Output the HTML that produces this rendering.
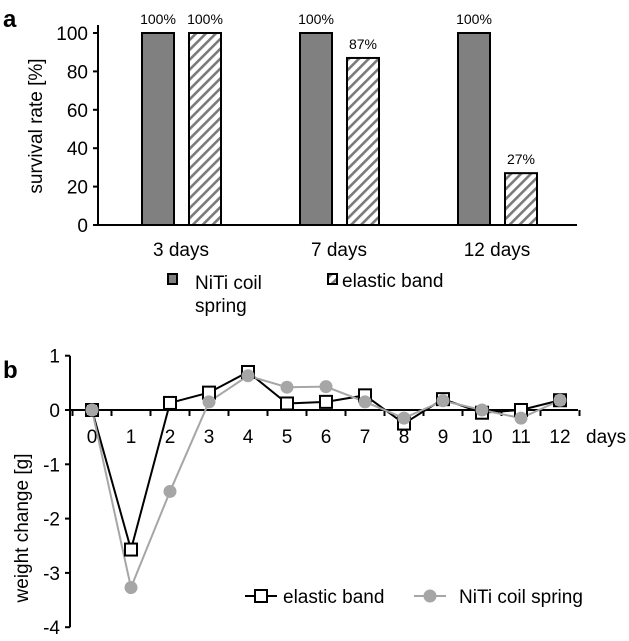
<!DOCTYPE html>
<html><head><meta charset="utf-8"><style>
body{margin:0;background:#fff;}
svg{display:block;font-family:"Liberation Sans",sans-serif;}
</style></head><body>
<svg id="c" width="629" height="641" viewBox="0 0 629 641">
<defs>
<pattern id="hatch" patternUnits="userSpaceOnUse" width="7" height="7" patternTransform="rotate(45)">
<rect width="7" height="7" fill="#fff"/><rect width="2.6" height="7" fill="#7a7a7a"/>
</pattern>
</defs>
<text x="3" y="27" font-size="24" font-weight="bold">a</text>
<text x="3" y="378" font-size="24" font-weight="bold">b</text>
<g id="top"></g><g id="bot"></g>
</svg>
<script>
const categories=["3 days","7 days","12 days"];
const nitiValues=[100,100,100];
const elasticValues=[100,87,27];
const yTicksA=[0,20,40,60,80,100];

const days=[0,1,2,3,4,5,6,7,8,9,10,11,12];
const elasticWeight=[0,-2.57,0.13,0.32,0.7,0.12,0.15,0.27,-0.25,0.2,-0.05,0,0.18];
const nitiWeight=[0,-3.27,-1.5,0.15,0.63,0.42,0.43,0.15,-0.15,0.17,0,-0.15,0.18];
const yTicksB=[1,0,-1,-2,-3,-4];

const NS="http://www.w3.org/2000/svg";
function mk(p,t,a){const e=document.createElementNS(NS,t);for(const k in a)e.setAttribute(k,a[k]);p.appendChild(e);return e;}
// Panel A
const A=document.getElementById('top');
const ax0=98,ax1=577,ay0=225,ay1=33;
const yA=v=>ay0-(v/100)*(ay0-ay1);
const cw=158;
const cx=i=>ax0+cw*(i+0.5);
const bw=32;
yTicksA.forEach(v=>{
 let t=mk(A,'line',{x1:ax0-5,x2:ax0,y1:yA(v),y2:yA(v),stroke:'#000','stroke-width':2});
 
 let l=mk(A,'text',{x:ax0-10,y:yA(v)+7,'font-size':19,'text-anchor':'end'});l.textContent=v;
 
});
categories.forEach((c,i)=>{
 let b1=mk(A,'rect',{x:cx(i)-35,y:yA(nitiValues[i]),width:bw,height:ay0-yA(nitiValues[i]),fill:'#808080',stroke:'#000','stroke-width':2});
 
 let b2=mk(A,'rect',{x:cx(i)+12,y:yA(elasticValues[i]),width:bw,height:ay0-yA(elasticValues[i]),fill:'url(#hatch)',stroke:'#000','stroke-width':2});
 
 let l1=mk(A,'text',{x:cx(i)-35+bw/2,y:yA(nitiValues[i])-9,'font-size':14,'text-anchor':'middle'});l1.textContent=Math.round(nitiValues[i])+'%';
 
 let l2=mk(A,'text',{x:cx(i)+12+bw/2,y:yA(elasticValues[i])-9,'font-size':14,'text-anchor':'middle'});l2.textContent=Math.round(elasticValues[i])+'%';
 
 let cl=mk(A,'text',{x:cx(i)+4,y:256,'font-size':19,'text-anchor':'middle'});cl.textContent=c;
 
});
let axA=mk(A,'path',{d:`M${ax0} ${ay1-8}V${ay0}H${ax1}`,fill:'none',stroke:'#000','stroke-width':2});

let ytA=mk(A,'text',{transform:'translate(42,126) rotate(-90)','font-size':19,'text-anchor':'middle'});ytA.textContent='survival rate [%]';

let lg1=mk(A,'rect',{x:168,y:274,width:9,height:10,fill:'#808080',stroke:'#000','stroke-width':2});

let lt1=mk(A,'text',{x:195,y:289,'font-size':19});lt1.textContent='NiTi coil';

let lt1b=mk(A,'text',{x:195,y:312,'font-size':19});lt1b.textContent='spring';

let lg2=mk(A,'rect',{x:328,y:274,width:9,height:10,fill:'url(#hatch)',stroke:'#000','stroke-width':2});

let lt2=mk(A,'text',{x:342,y:287,'font-size':19});lt2.textContent='elastic band';


// Panel B
const B=document.getElementById('bot');
const bx0=70,bx1=578,by0=410,bpu=54.3;
const xB=d=>92+d*39;
const yB=v=>by0-v*bpu;
yTicksB.forEach(v=>{
 let t=mk(B,'line',{x1:bx0-5,x2:bx0,y1:yB(v),y2:yB(v),stroke:'#000','stroke-width':2});
 
 let l=mk(B,'text',{x:bx0-10,y:yB(v)+7,'font-size':19,'text-anchor':'end'});l.textContent=v;
 
});
days.forEach(d=>{
 let t=mk(B,'line',{x1:xB(d)+19.5,x2:xB(d)+19.5,y1:by0,y2:by0+6,stroke:'#000','stroke-width':2});
 
 let l=mk(B,'text',{x:xB(d),y:443,'font-size':19,'text-anchor':'middle'});l.textContent=d;
 
});
let t0=mk(B,'line',{x1:xB(0)-19.5,x2:xB(0)-19.5,y1:by0,y2:by0+6,stroke:'#000','stroke-width':2});

let axB=mk(B,'path',{d:`M${bx0} ${yB(1)}V${yB(-4)}M${bx0} ${by0}H${bx1}`,fill:'none',stroke:'#000','stroke-width':2});

let dl=mk(B,'text',{x:586,y:443,'font-size':19});dl.textContent='days';

let ytB=mk(B,'text',{transform:'translate(28,528) rotate(-90)','font-size':19,'text-anchor':'middle'});ytB.textContent='weight change [g]';

let le=mk(B,'polyline',{points:days.map((d,i)=>xB(d)+','+yB(elasticWeight[i])).join(' '),fill:'none',stroke:'#000','stroke-width':2});

let ln=mk(B,'polyline',{points:days.map((d,i)=>xB(d)+','+yB(nitiWeight[i])).join(' '),fill:'none',stroke:'#a6a6a6','stroke-width':2});

days.forEach((d,i)=>{
 let s=mk(B,'rect',{x:xB(d)-6,y:yB(elasticWeight[i])-6,width:12,height:12,fill:'#fff',stroke:'#000','stroke-width':2});
 
});
days.forEach((d,i)=>{
 let c=mk(B,'circle',{cx:xB(d),cy:yB(nitiWeight[i]),r:6.5,fill:'#a6a6a6'});
 
});
let ll1=mk(B,'line',{x1:245,x2:277,y1:596,y2:596,stroke:'#000','stroke-width':2});

let lm1=mk(B,'rect',{x:255,y:590,width:12,height:12,fill:'#fff',stroke:'#000','stroke-width':2});

let lbt1=mk(B,'text',{x:283,y:603,'font-size':19});lbt1.textContent='elastic band';

let ll2=mk(B,'line',{x1:414,x2:446,y1:596,y2:596,stroke:'#a6a6a6','stroke-width':2});

let lm2=mk(B,'circle',{cx:430,cy:596,r:6.5,fill:'#a6a6a6'});

let lbt2=mk(B,'text',{x:459,y:603,'font-size':19});lbt2.textContent='NiTi coil spring';

</script>
</body></html>
